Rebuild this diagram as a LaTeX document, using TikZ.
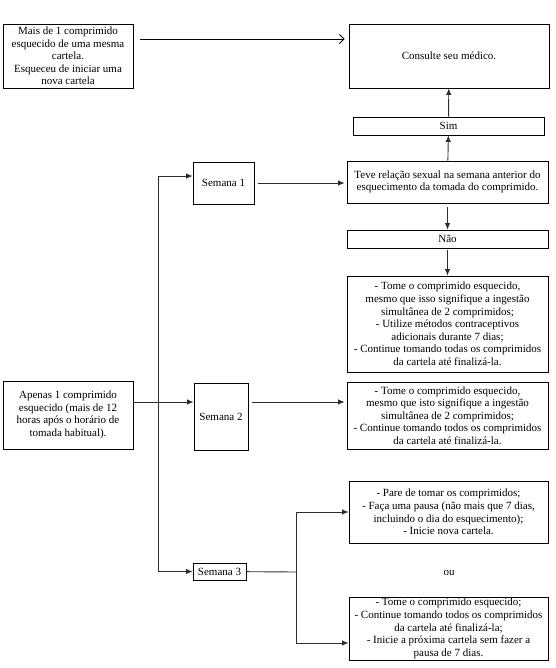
\documentclass[tikz,border=0pt]{standalone}
\usepackage{fontspec}
\setmainfont{Liberation Serif}
\usetikzlibrary{arrows.meta, calc}
\definecolor{fio}{RGB}{45,45,45}

\begin{document}
\begin{tikzpicture}[x=1pt, y=-1pt,
    font=\fontsize{11}{12.6}\selectfont,
    caixa/.style={draw=black, line width=0.8pt, align=center, inner sep=1pt},
    seta/.style={draw=fio, line width=0.9pt, -{Latex[length=6.5pt, width=5.5pt]}},
    liga/.style={draw=fio, line width=0.9pt}]
        \useasboundingbox (0,0) rectangle (555,668);
        % coluna da direita
        \node[caixa, minimum width=200pt, minimum height=64pt] (medico) at (449,56) {Consulte seu médico.};
        \node[caixa, minimum width=191pt, minimum height=18pt] (sim) at (448.5,126) {Sim};
        \node[caixa, minimum width=201pt, minimum height=42pt] (teve) at (447.5,182) {Teve relação sexual na semana anterior do\\esquecimento da tomada do comprimido.};
        \node[caixa, minimum width=201pt, minimum height=18pt] (nao) at (447.5,239) {Não};
        \node[caixa, minimum width=201pt, minimum height=96pt] (tome1) at (447.5,324) {- Tome o comprimido esquecido,\\mesmo que isso signifique a ingestão\\simultânea de 2 comprimidos;\\- Utilize métodos contraceptivos\\adicionais durante 7 dias;\\- Continue tomando todas os comprimidos\\da cartela até finalizá-la.};
        \node[caixa, minimum width=201pt, minimum height=67pt] (tome2) at (447.5,415.5) {- Tome o comprimido esquecido,\\mesmo que isto signifique a ingestão\\simultânea de 2 comprimidos;\\- Continue tomando todos os comprimidos\\da cartela até finalizá-la.};
        \node[caixa, minimum width=199pt, minimum height=62pt] (pare) at (448.5,512) {- Pare de tomar os comprimidos;\\- Faça uma pausa (não mais que 7 dias,\\incluindo o dia do esquecimento);\\- Inicie nova cartela.};
        \node (ou) at (449,573) {ou};
        \node[caixa, minimum width=199pt, minimum height=63pt] (tome3) at (448.5,628.5) {- Tome o comprimido esquecido;\\- Continue tomando todos os comprimidos\\da cartela até finalizá-la;\\- Inicie a próxima cartela sem fazer a\\pausa de 7 dias.};
        % semanas
        \node[caixa, minimum width=61pt, minimum height=42pt] (sem1) at (223.5,183) {Semana 1};
        \node[caixa, minimum width=54pt, minimum height=67pt] (sem2) at (221,416.5) {Semana 2};
        \node[caixa, minimum width=53pt, minimum height=17pt] (sem3) at (219.5,571.5) {Semana 3};
        % esquerda
        \node[caixa, minimum width=130pt, minimum height=64pt] (mais) at (68,56) {Mais de 1 comprimido\\esquecido de uma mesma\\cartela.\\Esqueceu de iniciar uma\\nova cartela};
        \node[caixa, minimum width=130pt, minimum height=68pt] (apenas) at (68,415) {Apenas 1 comprimido\\esquecido (mais de 12\\horas após o horário de\\tomada habitual).};
        \coordinate (ramo) at (158,0);
        \coordinate (garfo) at (296,572);
        % setas
        \draw[line width=0.9pt, -{Straight Barb[length=4.5pt, width=9pt]}] ([xshift=7pt, yshift=17pt]mais.east) -- ([xshift=-4pt, yshift=17pt]mais.east -| medico.west);
        \draw[seta] (sim) -- (medico);
        \draw[seta] (teve) -- (sim);
        \draw[seta, shorten <=4pt] (teve) -- (nao);
        \draw[seta, shorten <=2pt] (nao) -- (tome1);
        \draw[seta, shorten <=4pt, shorten >=2pt] (sem1) -- (sem1 -| teve.west);
        \draw[seta] (sem3.west -| ramo) |- ([yshift=7pt]sem1.west);
        \draw[seta] (sem3.west -| ramo) -- (sem3);
        \draw[seta] ([yshift=13pt]apenas.east) -- ([yshift=13pt]apenas.east -| sem2.west);
        \draw[seta, shorten >=2pt] ([xshift=4pt, yshift=14.5pt]sem2.east) -- ([yshift=14.5pt]sem2.east -| tome2.west);
        \draw[liga] (sem3) -- (garfo);
        \draw[seta] (garfo) |- (pare);
        \draw[seta] (garfo) |- ([yshift=-14.5pt]tome3.west);
      \end{tikzpicture}
\end{document}
